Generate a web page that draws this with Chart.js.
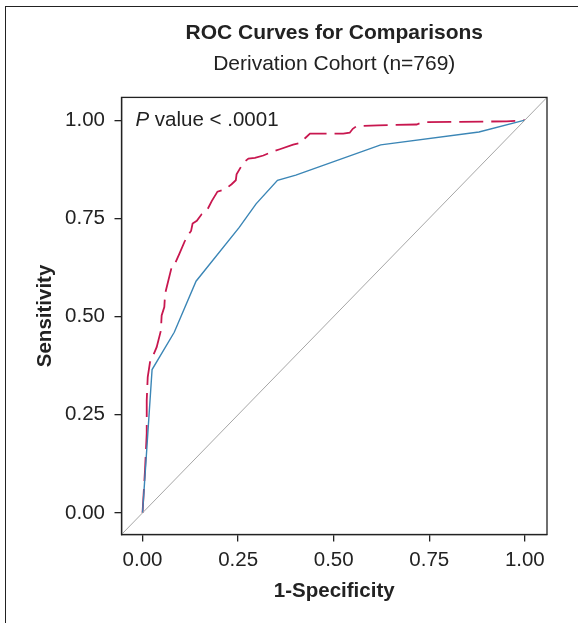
<!DOCTYPE html>
<html>
<head>
<meta charset="utf-8">
<script src="https://cdn.jsdelivr.net/npm/chart.js@4"></script>
<style>
  html, body { margin: 0; padding: 0; background: #fff; }
  #moldura { position: absolute; left: 5px; top: 6px; right: 0; bottom: 0;
             border-left: 1.5px solid #222; border-top: 1.5px solid #222; }
  #caixa { position: absolute; left: 0; top: 0; width: 578px; height: 623px; }
</style>
</head>
<body>
<div id="moldura"></div>
<div id="caixa"><canvas id="rocCanvas" width="578" height="623"></canvas></div>
<script>
// dados
const tituloTexto = 'ROC Curves for Comparisons';
const subtituloTexto = 'Derivation Cohort (n=769)';
const textoP = ' value < .0001';

const ticksEixo = [0, 0.25, 0.5, 0.75, 1];
const limiteMin = -0.055;
const limiteMax = 1.058;

// curva tracejada (vermelha)
const vermelhaX = [0, 0.0065, 0.011, 0.011, 0.0136, 0.0196, 0.022, 0.037, 0.048, 0.050, 0.057, 0.059,
  0.076, 0.082, 0.096, 0.111, 0.114, 0.127, 0.131, 0.142, 0.155, 0.169, 0.181, 0.196, 0.216, 0.233,
  0.244, 0.246, 0.264, 0.277, 0.294, 0.316, 0.338, 0.359, 0.394, 0.412, 0.425, 0.438, 0.525, 0.542,
  0.550, 0.560, 0.616, 0.717, 0.734, 0.952, 1];
const vermelhaY = [0, 0.109, 0.203, 0.287, 0.346, 0.384, 0.388, 0.422, 0.464, 0.503, 0.524, 0.558,
  0.625, 0.629, 0.659, 0.693, 0.701, 0.718, 0.737, 0.744, 0.761, 0.771, 0.794, 0.818, 0.824, 0.837,
  0.847, 0.862, 0.892, 0.902, 0.904, 0.910, 0.919, 0.926, 0.938, 0.942, 0.954, 0.966, 0.966, 0.968,
  0.978, 0.985, 0.987, 0.989, 0.995, 0.997, 1];

// curva continua (azul)
const azulX = [0, 0.025, 0.083, 0.14, 0.253, 0.297, 0.353, 0.401, 0.623, 0.88, 1];
const azulY = [0, 0.365, 0.46, 0.59, 0.727, 0.787, 0.847, 0.86, 0.937, 0.97, 1];

// linha de referencia (diagonal)
const diagonal = [-0.06, 1.06];

const fonte = '"Liberation Sans", Arial, Helvetica, sans-serif';
const corTexto = '#222';

function juntarPontos(xs, ys) {
  return xs.map((x, i) => ({ x: x, y: ys[i] }));
}

// moldura do grafico e texto do valor P
const molduraPlot = {
  id: 'molduraPlot',
  afterDraw(chart) {
    const { ctx, chartArea: a } = chart;
    ctx.save();
    ctx.strokeStyle = corTexto;
    ctx.lineWidth = 1.3;
    ctx.strokeRect(a.left, a.top, a.right - a.left, a.bottom - a.top);

    ctx.fillStyle = corTexto;
    ctx.textBaseline = 'middle';
    ctx.textAlign = 'left';
    const x0 = a.left + 14;
    const y0 = chart.scales.y.getPixelForValue(1);
    ctx.font = 'italic 20.5px ' + fonte;
    ctx.fillText('P', x0, y0);
    const w = ctx.measureText('P').width;
    ctx.font = '20.5px ' + fonte;
    ctx.fillText(textoP, x0 + w, y0);
    ctx.restore();
  }
};

function eixo(titulo, horizontal) {
  return {
    type: 'linear',
    min: limiteMin,
    max: limiteMax,
    afterBuildTicks: (s) => { s.ticks = ticksEixo.map(v => ({ value: v })); },
    afterFit: (s) => {
      if (horizontal) s.height = 88.5;
      else s.width = 121.5;
    },
    grid: { drawOnChartArea: false, drawTicks: true, tickLength: 7, color: corTexto, lineWidth: 1.3 },
    border: { display: true, color: corTexto, width: 1.3 },
    ticks: {
      color: corTexto,
      padding: horizontal ? 7 : 9.5,
      font: { family: fonte, size: 20.5 },
      callback: (v) => Number(v).toFixed(2)
    },
    title: {
      display: true,
      text: titulo,
      color: corTexto,
      font: { family: fonte, size: 20.5, weight: 'bold' },
      padding: horizontal ? { top: 0, bottom: 19.7 } : { top: 32.7, bottom: 0 }
    }
  };
}

new Chart(document.getElementById('rocCanvas'), {
  type: 'line',
  data: {
    datasets: [
      {
        label: 'Diagonal',
        data: juntarPontos(diagonal, diagonal),
        borderColor: '#a6a6a6',
        borderWidth: 1,
        pointRadius: 0
      },
      {
        label: 'Azul',
        data: juntarPontos(azulX, azulY),
        borderColor: '#3b86b6',
        borderWidth: 1.4,
        pointRadius: 0
      },
      {
        label: 'Vermelha',
        data: juntarPontos(vermelhaX, vermelhaY),
        borderColor: '#c8174f',
        borderWidth: 1.8,
        borderDash: [24, 8],
        pointRadius: 0
      }
    ]
  },
  options: {
    responsive: false,
    animation: false,
    layout: { padding: { left: 0, right: 31, top: 0, bottom: 0 } },
    elements: { line: { tension: 0, fill: false } },
    scales: {
      x: eixo('1-Specificity', true),
      y: eixo('Sensitivity', false)
    },
    plugins: {
      legend: { display: false },
      tooltip: { enabled: false },
      title: {
        display: true,
        text: tituloTexto,
        fullSize: false,
        color: corTexto,
        font: { family: fonte, size: 21, weight: 'bold' },
        padding: { top: 20.5, bottom: 0 }
      },
      subtitle: {
        display: true,
        text: subtituloTexto,
        fullSize: false,
        color: corTexto,
        font: { family: fonte, size: 21, weight: 'normal' },
        padding: { top: 5.5, bottom: 21 }
      }
    }
  },
  plugins: [molduraPlot]
});
</script>
</body>
</html>
